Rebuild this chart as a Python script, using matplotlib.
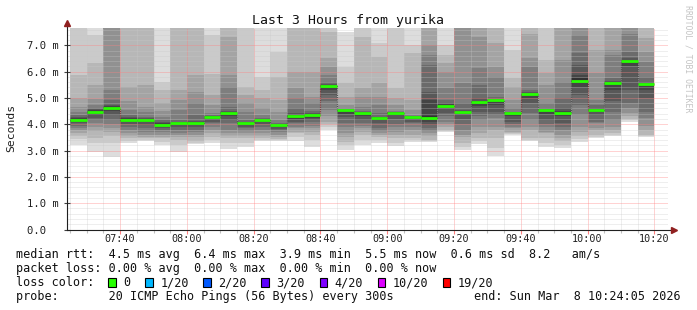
import matplotlib
matplotlib.use("Agg")
import matplotlib.pyplot as plt
import numpy as np
from matplotlib.patches import Rectangle
from matplotlib.ticker import MultipleLocator, FixedLocator

# column end times (minutes after midnight), 5 min steps, 07:30 .. 10:20
col_end = list(range(450, 625, 5))
x_start, x_end = 444.083, 624.083   # 07:24:05 .. 10:24:05

# 20 sorted pings per column (ms)
pings = [
    [3.22, 3.45, 3.55, 3.66, 3.78, 3.86, 3.95, 4.03, 4.09, 4.13, 4.19, 4.24, 4.29, 4.36, 4.48, 4.67, 4.99, 5.87, 7.9, 9.0],
    [2.95, 3.28, 3.47, 3.76, 3.9, 4.04, 4.15, 4.25, 4.36, 4.42, 4.5, 4.53, 4.57, 4.62, 4.73, 4.95, 5.49, 6.34, 7.39, 8.5],
    [2.76, 3.3, 3.55, 3.72, 3.85, 4.0, 4.15, 4.35, 4.5, 4.6, 4.66, 4.7, 4.75, 4.92, 5.3, 8.2, 9.0, 9.5, 10.0, 11.0],
    [3.28, 3.38, 3.47, 3.55, 3.66, 3.78, 3.9, 4.02, 4.1, 4.15, 4.21, 4.24, 4.28, 4.35, 4.55, 4.9, 5.43, 8.2, 9.0, 10.0],
    [3.38, 3.42, 3.47, 3.53, 3.6, 3.72, 3.85, 3.98, 4.08, 4.13, 4.17, 4.19, 4.22, 4.29, 4.48, 4.67, 5.49, 8.1, 9.0, 10.0],
    [3.22, 3.34, 3.47, 3.52, 3.6, 3.7, 3.78, 3.85, 3.92, 3.97, 4.01, 4.04, 4.08, 4.15, 4.29, 4.52, 4.8, 5.3, 5.62, 8.5],
    [2.95, 3.2, 3.4, 3.5, 3.6, 3.68, 3.78, 3.9, 3.98, 4.03, 4.06, 4.08, 4.1, 4.16, 4.54, 4.92, 5.3, 8.0, 8.5, 9.5],
    [3.24, 3.3, 3.38, 3.5, 3.6, 3.7, 3.8, 3.9, 3.98, 4.03, 4.07, 4.09, 4.12, 4.35, 4.8, 5.24, 5.87, 7.9, 8.5, 9.0],
    [3.3, 3.4, 3.52, 3.65, 3.78, 3.9, 4.04, 4.1, 4.2, 4.27, 4.31, 4.32, 4.33, 4.34, 4.42, 4.73, 5.11, 5.93, 7.39, 8.0],
    [3.05, 3.3, 3.47, 3.55, 3.66, 3.8, 4.04, 4.15, 4.3, 4.42, 4.46, 4.48, 4.52, 4.67, 5.43, 5.87, 7.33, 8.0, 9.0, 10.0],
    [3.14, 3.3, 3.47, 3.55, 3.66, 3.75, 3.85, 3.9, 3.98, 4.03, 4.06, 4.08, 4.1, 4.16, 4.48, 4.8, 5.11, 5.43, 8.0, 9.0],
    [3.37, 3.42, 3.47, 3.55, 3.66, 3.78, 3.9, 4.0, 4.1, 4.14, 4.17, 4.18, 4.19, 4.22, 4.35, 4.61, 4.99, 5.3, 5.81, 8.5],
    [3.38, 3.42, 3.45, 3.52, 3.6, 3.7, 3.78, 3.82, 3.9, 3.95, 3.98, 3.99, 4.0, 4.04, 4.16, 4.48, 4.92, 5.81, 6.76, 7.9],
    [3.37, 3.5, 3.66, 3.7, 3.85, 3.9, 4.04, 4.1, 4.2, 4.3, 4.34, 4.37, 4.42, 4.61, 4.99, 5.37, 6.0, 7.9, 8.2, 9.0],
    [3.14, 3.4, 3.6, 3.7, 3.85, 3.95, 4.1, 4.15, 4.25, 4.35, 4.39, 4.4, 4.42, 4.52, 4.8, 5.05, 6.0, 8.0, 8.5, 9.0],
    [3.79, 3.9, 4.0, 4.1, 4.3, 4.55, 4.9, 5.11, 5.3, 5.43, 5.48, 5.5, 5.52, 5.62, 5.87, 6.19, 6.51, 7.52, 7.9, 8.5],
    [3.03, 3.2, 3.34, 3.5, 3.66, 3.9, 4.04, 4.27, 4.4, 4.5, 4.54, 4.55, 4.56, 4.57, 4.61, 4.73, 5.05, 5.56, 6.19, 7.52],
    [3.22, 3.41, 3.6, 3.7, 3.85, 3.95, 4.04, 4.15, 4.3, 4.4, 4.44, 4.45, 4.47, 4.52, 4.67, 5.05, 5.37, 7.33, 8.0, 9.0],
    [3.28, 3.4, 3.53, 3.6, 3.66, 3.75, 3.85, 4.04, 4.15, 4.23, 4.27, 4.28, 4.29, 4.42, 4.73, 5.05, 5.56, 6.57, 7.08, 8.5],
    [3.18, 3.3, 3.47, 3.6, 3.72, 3.91, 4.0, 4.2, 4.35, 4.41, 4.45, 4.46, 4.47, 4.48, 4.52, 4.73, 4.99, 5.37, 8.2, 9.0],
    [3.31, 3.4, 3.47, 3.6, 3.78, 3.9, 4.04, 4.1, 4.2, 4.25, 4.28, 4.29, 4.3, 4.32, 4.35, 4.54, 4.92, 6.7, 7.0, 8.5],
    [3.33, 3.37, 3.41, 3.55, 3.66, 3.75, 3.85, 3.98, 4.1, 4.2, 4.3, 4.92, 5.24, 6.25, 6.63, 7.0, 8.5, 9.0, 9.5, 10.0],
    [3.72, 3.75, 3.8, 3.9, 4.0, 4.1, 4.3, 4.42, 4.6, 4.69, 4.73, 4.76, 4.8, 4.92, 5.37, 6.0, 6.32, 6.63, 7.0, 9.0],
    [3.03, 3.15, 3.28, 3.5, 3.6, 3.8, 4.0, 4.2, 4.38, 4.46, 4.5, 4.52, 4.54, 4.8, 5.56, 8.0, 8.5, 9.0, 9.5, 10.0],
    [3.24, 3.35, 3.47, 3.66, 3.9, 4.16, 4.3, 4.48, 4.7, 4.81, 4.87, 4.9, 4.99, 5.49, 6.13, 7.33, 8.0, 8.5, 9.0, 10.0],
    [2.8, 3.1, 3.47, 3.78, 3.9, 4.23, 4.35, 4.48, 4.75, 4.89, 4.93, 4.94, 4.97, 5.05, 5.81, 6.19, 7.08, 8.5, 9.0, 10.0],
    [3.6, 3.64, 3.68, 3.72, 3.85, 3.91, 4.0, 4.1, 4.3, 4.39, 4.43, 4.44, 4.46, 4.48, 4.61, 4.92, 5.43, 5.75, 6.82, 8.0],
    [3.37, 3.4, 3.47, 3.78, 3.91, 4.16, 4.42, 4.8, 5.0, 5.13, 5.17, 5.19, 5.22, 5.3, 6.19, 6.51, 7.45, 8.5, 9.0, 10.0],
    [3.14, 3.3, 3.47, 3.66, 3.7, 3.91, 4.0, 4.16, 4.4, 4.51, 4.54, 4.55, 4.57, 4.61, 4.8, 5.49, 5.94, 6.44, 8.0, 9.0],
    [3.1, 3.2, 3.35, 3.47, 3.6, 3.78, 3.9, 4.04, 4.3, 4.4, 4.46, 4.5, 4.61, 4.99, 5.62, 6.44, 8.0, 8.5, 9.0, 10.0],
    [3.33, 3.43, 3.55, 3.7, 3.91, 4.35, 4.73, 5.1, 5.4, 5.58, 5.75, 5.87, 6.25, 6.7, 7.39, 9.0, 9.5, 10.0, 10.5, 11.0],
    [3.46, 3.52, 3.6, 3.78, 3.85, 4.04, 4.1, 4.35, 4.45, 4.52, 4.56, 4.57, 4.6, 4.73, 4.92, 5.94, 6.82, 8.0, 9.0, 10.0],
    [3.56, 3.6, 3.68, 3.78, 3.9, 4.16, 4.48, 4.9, 5.3, 5.56, 5.6, 5.62, 5.65, 5.75, 6.63, 6.82, 8.0, 8.5, 9.0, 10.0],
    [4.1, 4.15, 4.2, 4.3, 4.42, 4.6, 4.8, 5.3, 6.2, 6.36, 6.42, 6.44, 6.51, 6.76, 7.45, 7.9, 8.5, 9.0, 9.5, 10.0],
    [3.5, 3.55, 3.6, 3.78, 3.95, 4.23, 4.48, 4.99, 5.3, 5.5, 5.55, 5.57, 5.62, 5.81, 6.38, 6.76, 7.27, 9.0, 9.5, 10.0],
]

median = [4.16, 4.47, 4.63, 4.18, 4.15, 3.99, 4.05,
          4.05, 4.29, 4.44, 4.05, 4.16, 3.97, 4.32,
          4.37, 5.46, 4.53, 4.42, 4.25, 4.43, 4.27,
          4.25, 4.71, 4.48, 4.84, 4.91, 4.41, 5.15,
          4.53, 4.43, 5.66, 4.54, 5.58, 6.39, 5.52]

loss_labels = ["0", "1/20", "2/20", "3/20", "4/20", "10/20", "19/20"]
loss_colors = ["#26ff00", "#00b8ff", "#0059ff", "#5e00ff", "#7e00ff", "#dd00ff", "#ff0000"]

W, H = 697, 310
fig = plt.figure(figsize=(W / 100, H / 100), dpi=100)
fig.patch.set_facecolor("white")
ax = fig.add_axes([67 / W, 80.5 / H, 601 / W, 201.5 / H])
ax.set_xlim(x_start, x_end)
ax.set_ylim(0, 7.66)

p = np.array(pings)
ends = np.array(col_end, dtype=float)
starts = np.maximum(ends - 5, x_start)
widths = ends - starts

# smoke: outer pairs light, inner pairs dark
for k in range(10):
    g = int(190 / 10 * (10 - (k + 1))) + 50
    col = "#%02x%02x%02x" % (g, g, g)
    ax.bar(starts, p[:, 19 - k] - p[:, k], width=widths, bottom=p[:, k],
           align="edge", color=col, linewidth=0, zorder=1)

# median
med = np.array(median)
ax.step(np.r_[starts, ends[-1]], np.r_[med, med[-1]], where="post",
        color="#202020", lw=0.8, ls=(0, (1, 1)), zorder=2)
ax.hlines(med, starts, ends, color=loss_colors[0], lw=2.0, zorder=3)

# grid
ax.xaxis.set_major_locator(FixedLocator(list(range(460, 621, 20))))
ax.xaxis.set_minor_locator(MultipleLocator(5))
ax.yaxis.set_major_locator(MultipleLocator(1.0))
ax.yaxis.set_minor_locator(MultipleLocator(0.2))
ax.set_axisbelow(False)
ax.grid(which="minor", color="#c8c8c8", alpha=0.6, lw=0.72, ls=(0, (1, 1)))
ax.grid(which="major", color="#ff8080", alpha=0.7, lw=0.72, ls=(0, (1, 1)))

ax.set_xticklabels(["%02d:%02d" % (t // 60, t % 60) for t in range(460, 621, 20)],
                   family="DejaVu Sans Mono", fontsize=7.3)
ylabels = ["0.0  "] + ["%.1f m" % v for v in range(1, 8)]
ax.set_yticks(range(0, 8))
ax.set_yticklabels(ylabels, family="DejaVu Sans Mono", fontsize=7.6)
ax.tick_params(axis="x", which="major", direction="out", length=3, width=0.8,
               color="#ff8080", pad=0.3, labelcolor="#202020")
ax.tick_params(axis="x", which="minor", direction="out", length=2, width=0.8, color="#c0c0c0")
ax.tick_params(axis="y", which="major", direction="inout", length=5, width=0.8,
               color="#404040", pad=3.5, labelcolor="#202020")
ax.tick_params(axis="y", which="minor", length=0)

for s in ax.spines.values():
    s.set_visible(False)
ax.plot([0, 0], [0, 1.02], transform=ax.transAxes, color="#202020", lw=0.8, clip_on=False, zorder=4)
ax.plot([0, 1.008], [0, 0], transform=ax.transAxes, color="#202020", lw=0.8, clip_on=False, zorder=4)
ax.plot([0], [1.025], marker="^", ms=5, color="#902020", transform=ax.transAxes, clip_on=False, zorder=5)
ax.plot([1.01], [0], marker=">", ms=5, color="#902020", transform=ax.transAxes, clip_on=False, zorder=5)


def fx(x):
    return x / W


def fy(y):
    return 1 - y / H


mono = "DejaVu Sans Mono"
fig.text(fx(348), fy(24), "Last 3 Hours from yurika", family=mono, fontsize=9.5,
         ha="center", va="baseline", color="#101010")
fig.text(fx(11.5), fy(128), "Seconds", family=mono, fontsize=8.2, rotation=90,
         ha="center", va="center", color="#202020")
fig.text(fx(688), fy(59), "RRDTOOL / TOBI OETIKER", family=mono, fontsize=5.9,
         rotation=-90, ha="center", va="center", color="#c4c4c4")

fs = 8.45
cw = 7.02
lines = [
    (258.3, "median rtt:  4.5 ms avg  6.4 ms max  3.9 ms min  5.5 ms now  0.6 ms sd  8.2   am/s"),
    (272, "packet loss: 0.00 % avg  0.00 % max  0.00 % min  0.00 % now"),
    (286, "loss color:"),
    (300, "probe:       20 ICMP Echo Pings (56 Bytes) every 300s"),
]
for y, s in lines:
    fig.text(fx(16), fy(y), s, family=mono, fontsize=fs, ha="left", va="baseline", color="#101010")
fig.text(fx(681), fy(300), "end: Sun Mar  8 10:24:05 2026", family=mono, fontsize=fs,
         ha="right", va="baseline", color="#101010")

bx = 108.3
for lab, c in zip(loss_labels, loss_colors):
    fig.add_artist(Rectangle((fx(bx), fy(286.7)), 7.4 / W, 8.4 / H, transform=fig.transFigure,
                             facecolor=c, edgecolor="black", lw=0.8))
    fig.text(fx(bx + 15), fy(286), lab, family=mono, fontsize=fs, ha="left", va="baseline", color="#101010")
    bx = bx + 15 + len(lab) * cw + 15

fig.savefig("out.png", dpi=100, facecolor="white")
